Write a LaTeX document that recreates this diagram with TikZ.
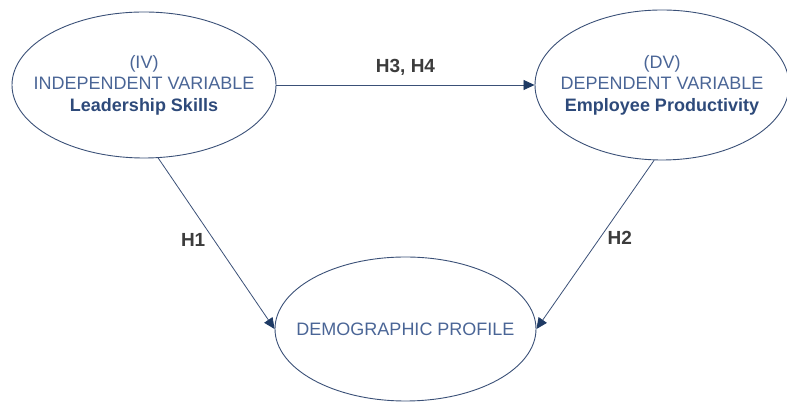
\documentclass[tikz,border=0pt]{standalone}
\usepackage{fontspec}
\setmainfont{Liberation Sans}
\usetikzlibrary{shapes,arrows,arrows.meta,positioning,calc}

\definecolor{vartext}{HTML}{4A6596}
\definecolor{varbold}{HTML}{2E4A7A}
\definecolor{edgeline}{HTML}{3A5077}
\definecolor{tipnavy}{HTML}{1E3A64}
\definecolor{hypgray}{HTML}{3C3C3C}

\begin{document}
\begin{tikzpicture}[
    x=1pt, y=1pt,
    var/.style={ellipse, draw=edgeline, line width=0.9pt, inner ysep=0pt, text=vartext,
        font=\fontsize{18}{21.5}\selectfont, align=center},
    arrow/.style={-{Triangle[length=11pt, width=10pt, color=tipnavy]}, draw=edgeline, line width=0.8pt},
    hyp/.style={font=\fontsize{19}{22}\selectfont\bfseries, text=hypgray}
]
\useasboundingbox (0,0) rectangle (787,403);

% Nodes
\node [var, inner xsep=-18.7pt, minimum width=264pt, minimum height=146pt] (iv) at (144,318)
    {(IV)\\INDEPENDENT VARIABLE\\\textcolor{varbold}{\bfseries Leadership Skills}};
\node [var, inner xsep=-13.2pt, minimum width=254pt, minimum height=150pt] (dv) at (662,318)
    {(DV)\\DEPENDENT VARIABLE\\\textcolor{varbold}{\bfseries Employee Productivity}};
\node [var, inner xsep=-18.7pt, minimum width=261pt, minimum height=144pt] (demo) at (405.5,74)
    {DEMOGRAPHIC PROFILE};

% Hypotheses
\draw [arrow] (iv) -- (dv) node[midway, hyp, yshift=18pt] {H3, H4};
\draw [arrow] (iv.-79) -- (demo.west) node[pos=0.48, hyp, left=5pt] {H1};
\draw [arrow] (dv.-96) -- (demo.east) node[pos=0.46, hyp, right=4pt] {H2};

\end{tikzpicture}
\end{document}
